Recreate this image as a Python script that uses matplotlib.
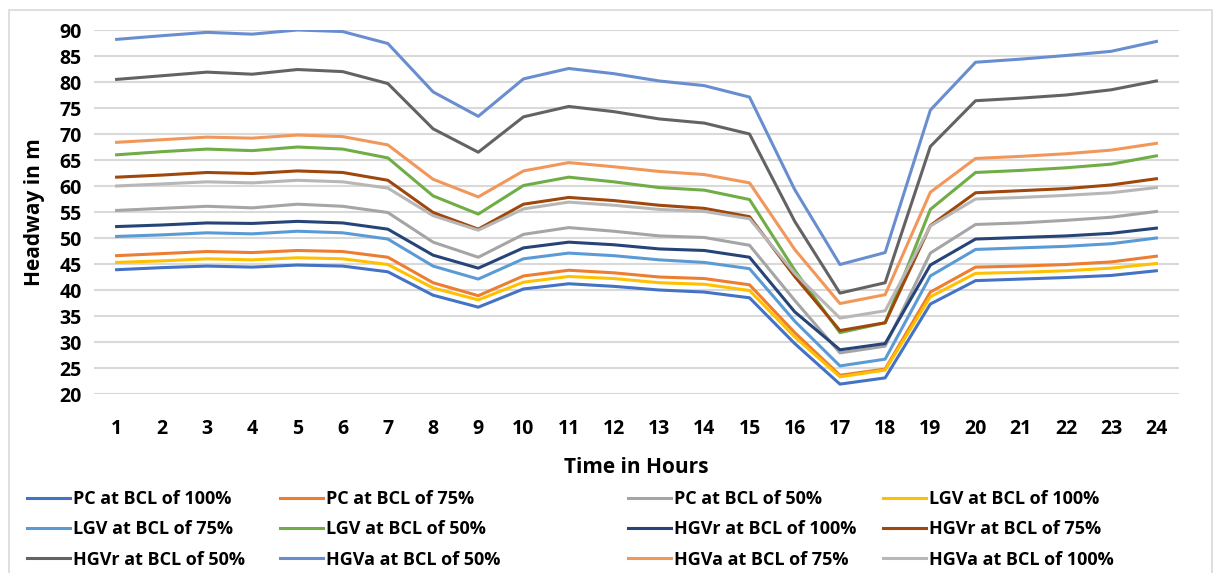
import matplotlib
matplotlib.use('Agg')
import matplotlib.pyplot as plt
import matplotlib.patches as patches

plt.rcParams['font.family'] = ['Open Sans', 'DejaVu Sans']
plt.rcParams['font.weight'] = 'bold'

hours = list(range(1, 25))

pc_100 = [43.9, 44.3, 44.6, 44.4, 44.8, 44.6, 43.5, 39.0, 36.7, 40.2, 41.2, 40.7,
          40.0, 39.6, 38.5, 29.7, 21.9, 23.1, 37.3, 41.8, 42.1, 42.4, 42.8, 43.7]
pc_75 = [46.6, 47.0, 47.4, 47.2, 47.6, 47.4, 46.3, 41.4, 38.9, 42.7, 43.8, 43.3,
         42.5, 42.2, 41.0, 31.8, 23.6, 24.8, 39.6, 44.4, 44.6, 44.9, 45.4, 46.5]
pc_50 = [55.3, 55.7, 56.1, 55.8, 56.5, 56.1, 54.9, 49.2, 46.3, 50.7, 52.0, 51.3,
         50.4, 50.1, 48.6, 38.0, 27.9, 29.2, 47.1, 52.6, 52.9, 53.4, 54.0, 55.1]
lgv_100 = [45.3, 45.6, 46.0, 45.8, 46.2, 46.0, 44.9, 40.4, 38.1, 41.5, 42.6, 42.2,
           41.4, 41.1, 39.9, 31.0, 23.3, 24.6, 38.7, 43.2, 43.4, 43.7, 44.2, 45.1]
lgv_75 = [50.3, 50.6, 51.0, 50.8, 51.3, 51.0, 49.8, 44.6, 42.1, 46.0, 47.1, 46.6,
          45.8, 45.3, 44.1, 34.0, 25.4, 26.7, 42.7, 47.8, 48.1, 48.4, 48.9, 50.0]
lgv_50 = [66.0, 66.6, 67.1, 66.8, 67.5, 67.1, 65.4, 58.1, 54.6, 60.1, 61.7, 60.8,
          59.7, 59.2, 57.4, 43.8, 31.8, 33.7, 55.5, 62.6, 63.0, 63.5, 64.2, 65.8]
hgvr_100 = [52.2, 52.5, 52.9, 52.8, 53.2, 52.9, 51.7, 46.7, 44.2, 48.1, 49.2, 48.7,
            47.9, 47.6, 46.3, 35.8, 28.5, 29.7, 44.8, 49.8, 50.1, 50.4, 50.9, 51.9]
hgvr_75 = [61.7, 62.1, 62.6, 62.4, 62.9, 62.6, 61.1, 54.9, 51.7, 56.5, 57.8, 57.2,
           56.3, 55.7, 54.1, 42.6, 32.2, 33.7, 52.4, 58.7, 59.1, 59.5, 60.2, 61.4]
hgvr_50 = [80.5, 81.2, 81.9, 81.5, 82.4, 82.0, 79.7, 71.0, 66.5, 73.3, 75.3, 74.3,
           72.9, 72.1, 70.0, 53.2, 39.4, 41.4, 67.6, 76.4, 76.9, 77.5, 78.5, 80.2]
hgva_50 = [88.2, 88.9, 89.55, 89.2, 90.0, 89.7, 87.4, 78.1, 73.4, 80.6, 82.6, 81.6,
           80.2, 79.3, 77.1, 59.3, 44.9, 47.2, 74.6, 83.8, 84.4, 85.1, 85.9, 87.8]
hgva_75 = [68.4, 68.9, 69.4, 69.2, 69.8, 69.5, 67.9, 61.3, 57.9, 62.9, 64.5, 63.7,
           62.8, 62.2, 60.6, 47.8, 37.4, 39.1, 58.8, 65.3, 65.7, 66.2, 66.9, 68.2]
hgva_100 = [60.0, 60.4, 60.8, 60.6, 61.1, 60.8, 59.6, 54.3, 51.5, 55.6, 56.9, 56.3,
            55.5, 55.1, 53.7, 43.2, 34.6, 36.0, 52.3, 57.5, 57.8, 58.2, 58.7, 59.7]

labels = ['PC at BCL of 100%', 'PC at BCL of 75%', 'PC at BCL of 50%',
          'LGV at BCL of 100%', 'LGV at BCL of 75%', 'LGV at BCL of 50%',
          'HGVr at BCL of 100%', 'HGVr at BCL of 75%', 'HGVr at BCL of 50%',
          'HGVa at BCL of 50%', 'HGVa at BCL of 75%', 'HGVa at BCL of 100%']
series = [pc_100, pc_75, pc_50, lgv_100, lgv_75, lgv_50,
          hgvr_100, hgvr_75, hgvr_50, hgva_50, hgva_75, hgva_100]
colors = ['#4472C4', '#ED7D31', '#A5A5A5', '#FFC000', '#5B9BD5', '#70AD47',
          '#264478', '#9E480E', '#636363', '#698ED0', '#F1975A', '#B7B7B7']

W, H = 1217, 573
fig = plt.figure(figsize=(W / 100, H / 100), dpi=100)
ax = fig.add_axes([94 / W, 1 - 394 / H, (1179 - 94) / W, (394 - 30) / H])

# chart border like the spreadsheet frame
fig.patches.append(patches.Rectangle((9 / W, -0.01), (1212 - 9) / W, 1 - 10 / H + 0.01,
                                     transform=fig.transFigure, fill=False,
                                     edgecolor='#D9D9D9', linewidth=1.2))

handles = []
for vals, lab, col in zip(series, labels, colors):
    h, = ax.plot(hours, vals, color=col, linewidth=2.2, label=lab, solid_joinstyle='round')
    handles.append(h)

ax.set_xlim(0.5, 24.5)
ax.set_ylim(20, 90)
ax.set_yticks(range(20, 91, 5))
ax.set_xticks(hours)
ax.grid(axis='y', color='#D9D9D9', linewidth=1.5)
ax.set_axisbelow(True)
for s in ax.spines.values():
    s.set_visible(False)
ax.tick_params(axis='both', length=0, labelsize=14)
ax.tick_params(axis='y', pad=9)
ax.tick_params(axis='x', pad=18)
for t in ax.get_xticklabels() + ax.get_yticklabels():
    t.set_fontweight('bold')

ax.set_ylabel('Headway in m', fontsize=15, fontweight='bold', labelpad=10)
ax.set_xlabel('Time in Hours', fontsize=15, fontweight='bold', labelpad=13)

# Excel lays the legend out row by row with its own column offsets
col_x = [27, 280, 628, 883]
for c in range(4):
    idx = [c, c + 4, c + 8]
    fig.legend([handles[i] for i in idx], [labels[i] for i in idx],
               loc='upper left', bbox_to_anchor=(col_x[c] / W, 1 - 490 / H),
               frameon=False, prop={'size': 13, 'weight': 'bold'},
               handlelength=2.4, handletextpad=0.15,
               labelspacing=0.68, borderaxespad=0, borderpad=0)

fig.savefig('out.png', dpi=100)
